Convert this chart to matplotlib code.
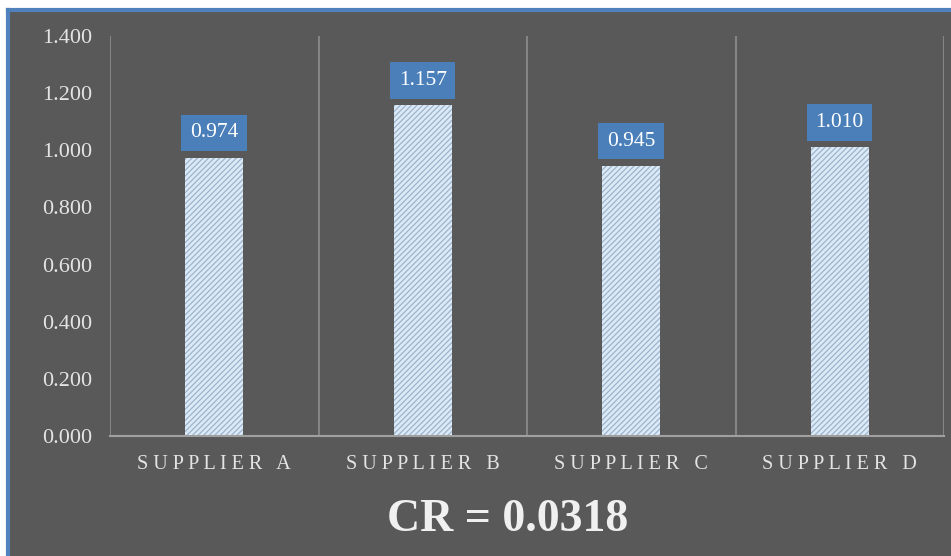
import matplotlib.pyplot as plt
from matplotlib.patches import Rectangle
from matplotlib.lines import Line2D

# supplier priority weights
suppliers = ["SUPPLIER A", "SUPPLIER B", "SUPPLIER C", "SUPPLIER D"]
weights = [0.974, 1.157, 0.945, 1.010]
yticks = [0.0, 0.2, 0.4, 0.6, 0.8, 1.0, 1.2, 1.4]
cr_value = "0.0318"

bg = "#595959"
frame_blue = "#4f81bd"
txt = "#e4e4e4"

plt.rcParams['font.family'] = ['Liberation Serif', 'DejaVu Serif']
plt.rcParams['hatch.linewidth'] = 0.9

fig = plt.figure(figsize=(9.51, 5.56), dpi=100, facecolor="white")

# dark panel with blue edge on top and left
W, H = 951.0, 556.0
x0, ytop = 8 / W, 1 - 10 / H
fig.patches.append(Rectangle((x0, 0), 1 - x0, ytop, transform=fig.transFigure,
                             facecolor=bg, edgecolor="none", zorder=-2))
fig.lines.append(Line2D([x0, x0], [0, ytop], transform=fig.transFigure,
                        color=frame_blue, lw=3, zorder=-1))
fig.lines.append(Line2D([x0, 1], [ytop, ytop], transform=fig.transFigure,
                        color=frame_blue, lw=3, zorder=-1))

ax = fig.add_axes([110 / W, 1 - 436 / H, (944 - 110) / W, 400 / H])
ax.set_facecolor(bg)

xs = range(len(suppliers))
ax.bar(xs, weights, width=0.28, color="#dceaf7", edgecolor="#9db4cd",
       hatch="//////", linewidth=0, zorder=2)

# value boxes above the bars
for x, v in zip(xs, weights):
    ax.annotate("%.3f" % v, (x, v), xytext=(0, 18), textcoords="offset points",
                ha="center", va="center", fontsize=15.5, color="white",
                bbox=dict(boxstyle="square,pad=0.4", facecolor="#4a7fb9",
                          edgecolor="none"), zorder=3)

ax.set_xlim(-0.5, len(suppliers) - 0.5)
ax.set_ylim(0, 1.4)
ax.set_yticks(yticks)
ax.set_yticklabels(["%.3f" % t for t in yticks], fontsize=16, color=txt)

# category separators
for b in [i - 0.5 for i in range(len(suppliers) + 1)]:
    ax.axvline(b, color="#858585", lw=1.5, zorder=1)

ax.set_xticks(list(xs))
ax.set_xticklabels([" ".join(s) for s in suppliers], fontsize=14.5, color=txt)
ax.tick_params(axis="both", length=0)
ax.tick_params(axis="x", pad=14)
ax.tick_params(axis="y", pad=13)

for side in ["top", "right", "left"]:
    ax.spines[side].set_visible(False)
ax.spines["bottom"].set_color("#a0a0a0")
ax.spines["bottom"].set_linewidth(1.5)

fig.text(508 / W, 1 - 520 / H, "CR = " + cr_value, ha="center", va="center",
         fontsize=33, fontweight="bold", color="#f0f0f0")

fig.savefig("out.png", dpi=100, facecolor=fig.get_facecolor())
